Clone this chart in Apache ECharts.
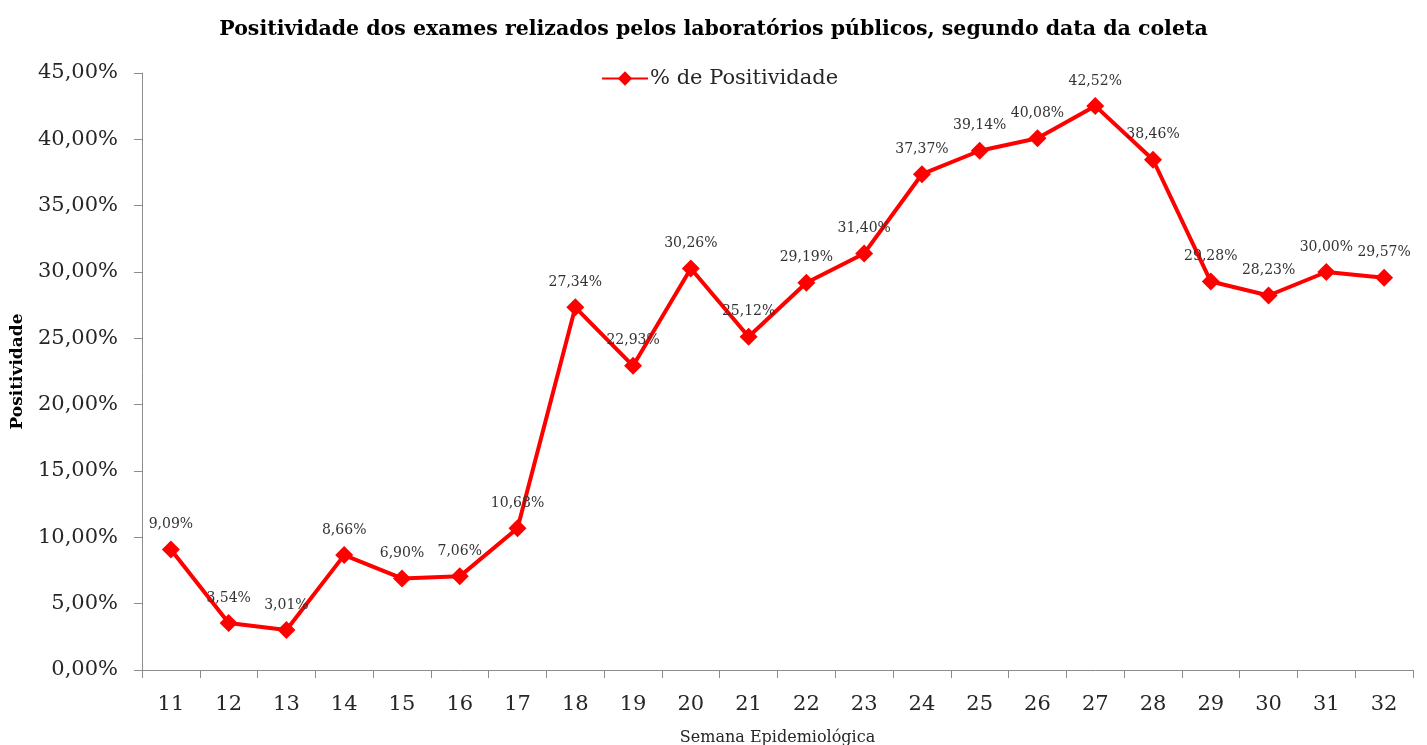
<!DOCTYPE html>
<html>
<head>
<meta charset="utf-8">
<script src="https://cdn.jsdelivr.net/npm/echarts@6/dist/echarts.min.js"></script>
<style>
html,body{margin:0;padding:0;background:#fff;}
#chart{width:1427px;height:745px;}
</style>
</head>
<body>
<div id="chart"></div>
<script>
const categories = ['11','12','13','14','15','16','17','18','19','20','21','22','23','24','25','26','27','28','29','30','31','32'];
const positividade = [9.09, 3.54, 3.01, 8.66, 6.90, 7.06, 10.68, 27.34, 22.93, 30.26, 25.12, 29.19, 31.40, 37.37, 39.14, 40.08, 42.52, 38.46, 29.28, 28.23, 30.00, 29.57];
const seriesName = '% de Positividade';
const titleText = 'Positividade dos exames relizados pelos laboratórios públicos, segundo data da coleta';

const fmt = v => v.toFixed(2).replace('.', ',') + '%';
const serif = 'DejaVu Serif';

const chart = echarts.init(document.getElementById('chart'));
chart.setOption({
  animation: false,
  backgroundColor: '#fff',
  title: {
    text: titleText,
    left: 'center',
    top: 14,
    textStyle: { fontFamily: serif, fontWeight: 'bold', fontSize: 20.5, color: '#000' }
  },
  legend: {
    data: [seriesName],
    left: 596,
    top: 63,
    itemWidth: 46,
    itemHeight: 18,
    itemGap: 4,
    textStyle: { fontFamily: serif, fontSize: 21, color: '#262626', padding: [0, 0, 0, -3] }
  },
  grid: { left: 142, right: 14, top: 73, bottom: 75, containLabel: false, outerBoundsMode: 'none' },
  xAxis: {
    type: 'category',
    data: categories,
    boundaryGap: true,
    name: 'Semana Epidemiológica',
    nameLocation: 'middle',
    nameGap: 60,
    nameTextStyle: { fontFamily: serif, fontSize: 16, color: '#262626' },
    axisLine: { lineStyle: { color: '#8c8c8c', width: 1 } },
    axisTick: { show: true, length: 8, lineStyle: { color: '#8c8c8c' } },
    axisLabel: { fontFamily: serif, fontSize: 21, color: '#262626', margin: 24 },
    splitLine: { show: false }
  },
  yAxis: {
    type: 'value',
    min: 0,
    max: 45,
    interval: 5,
    name: 'Positividade',
    nameLocation: 'middle',
    nameGap: 116,
    nameTextStyle: { fontFamily: serif, fontSize: 17, fontWeight: 'bold', color: '#000' },
    axisLine: { show: true, lineStyle: { color: '#8c8c8c', width: 1 } },
    axisTick: { show: true, length: 8, lineStyle: { color: '#8c8c8c' } },
    axisLabel: { fontFamily: serif, fontSize: 21, color: '#262626', margin: 24, formatter: v => fmt(v) },
    splitLine: { show: false }
  },
  series: [{
    name: seriesName,
    type: 'line',
    data: positividade,
    symbol: 'diamond',
    symbolSize: 18,
    lineStyle: { color: '#ff0000', width: 4 },
    itemStyle: { color: '#ff0000' },
    label: {
      show: true,
      position: 'top',
      distance: 9,
      fontFamily: serif,
      fontSize: 14,
      color: '#333333',
      formatter: p => fmt(p.value)
    }
  }]
});
</script>
</body>
</html>
